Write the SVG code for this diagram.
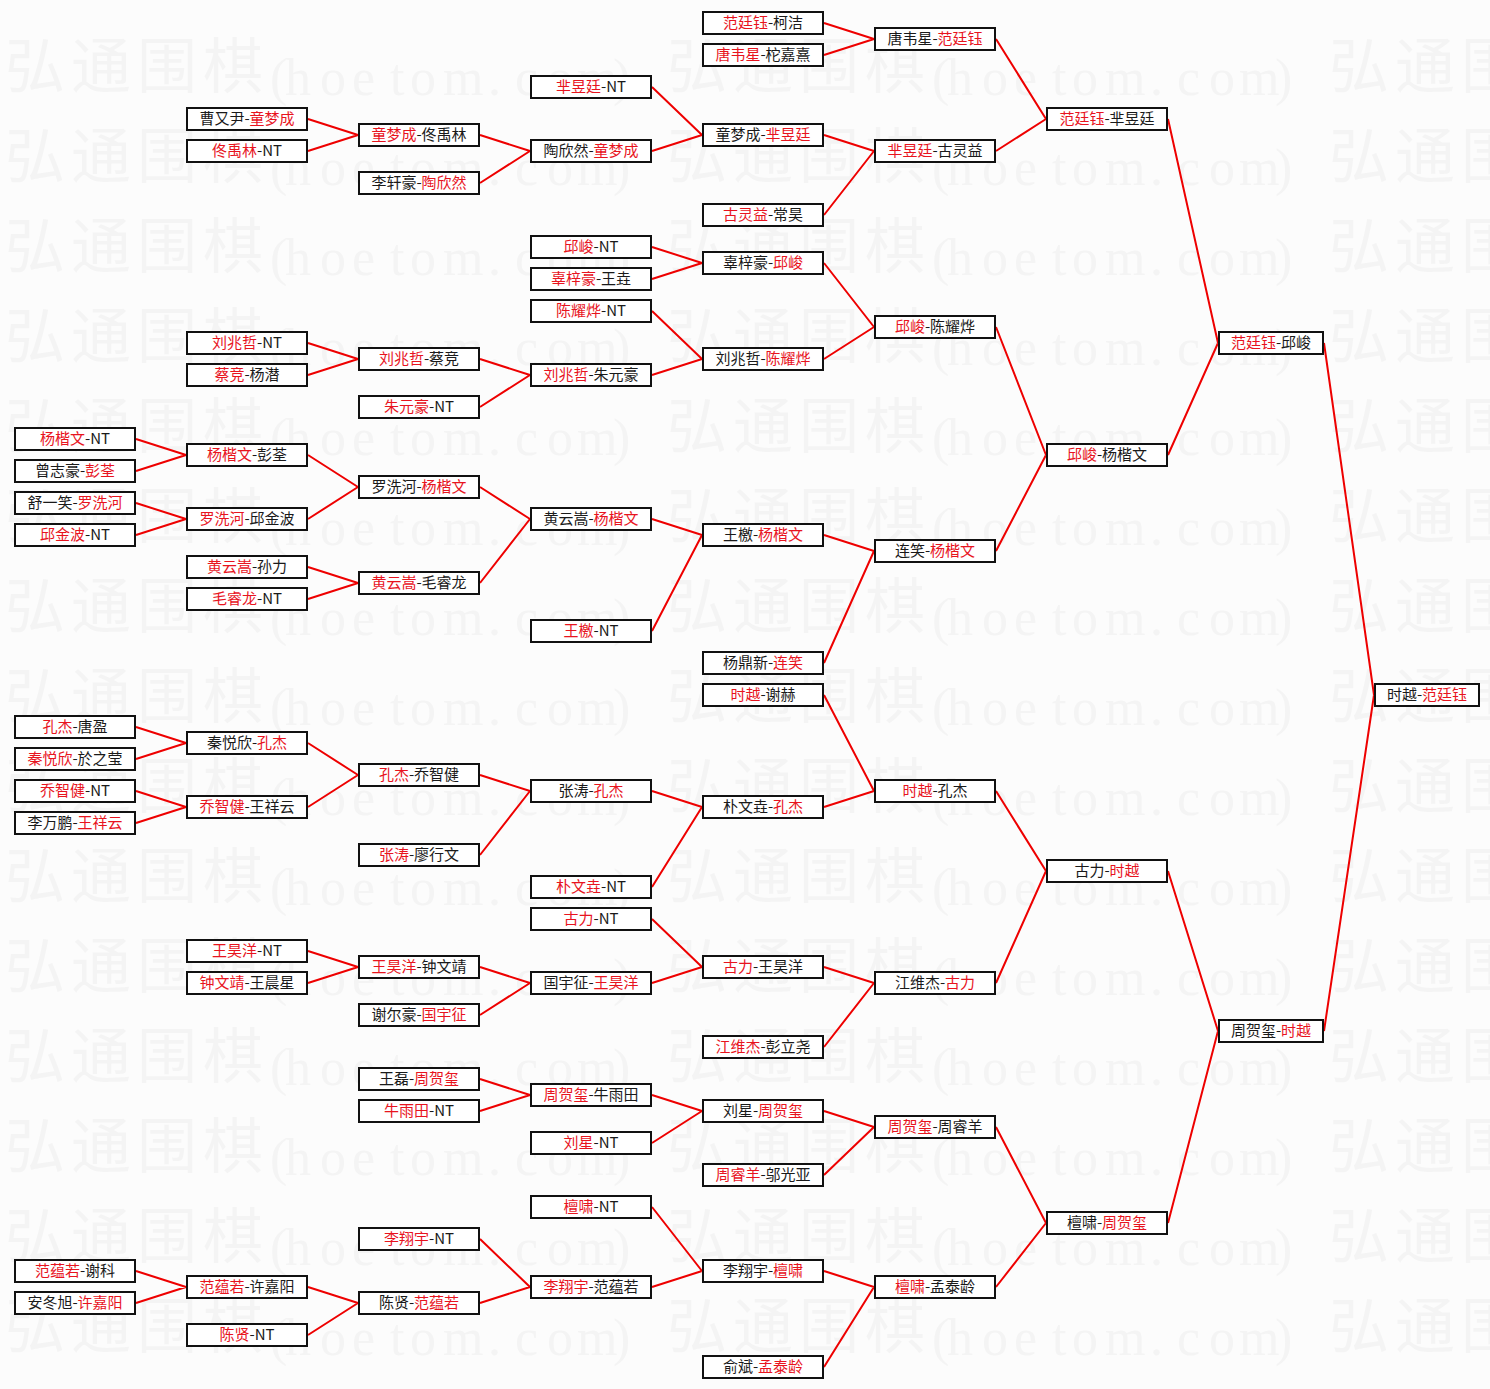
<svg xmlns="http://www.w3.org/2000/svg" xmlns:xlink="http://www.w3.org/1999/xlink" width="1490" height="1389" viewBox="0 0 1490 1389">
<style>
.bg{fill:#fcfcfc}
.wm{font-family:"Noto Sans CJK SC",sans-serif;font-size:60px;fill:#f4f4f4}
.wml{font-family:"Liberation Serif","Noto Sans CJK SC",serif;font-size:52px}
.b{fill:#ffffff;stroke:#111111;stroke-width:2}
.t{font-family:"Noto Sans CJK SC","Noto Sans CJK JP",sans-serif;font-size:15px;fill:#1a1a1a;text-anchor:middle}
.r{fill:#e8141e}
.c{fill:none;stroke:#ee0000;stroke-width:2}
</style>
<defs>
<text id="wm" class="wm"><tspan x="0 66 132 198" y="0">弘通围棋</tspan><tspan class="wml" x="265 280 315 347 385 405 438 483 510 542 572 608" y="7">(hoetom.com)</tspan></text>
</defs>
<rect class="bg" x="0" y="0" width="1490" height="1389"/>
<g id="watermark">
<use xlink:href="#wm" x="5" y="88"/><use xlink:href="#wm" x="667" y="88"/><use xlink:href="#wm" x="1329" y="88"/>
<use xlink:href="#wm" x="5" y="178"/><use xlink:href="#wm" x="667" y="178"/><use xlink:href="#wm" x="1329" y="178"/>
<use xlink:href="#wm" x="5" y="268"/><use xlink:href="#wm" x="667" y="268"/><use xlink:href="#wm" x="1329" y="268"/>
<use xlink:href="#wm" x="5" y="358"/><use xlink:href="#wm" x="667" y="358"/><use xlink:href="#wm" x="1329" y="358"/>
<use xlink:href="#wm" x="5" y="448"/><use xlink:href="#wm" x="667" y="448"/><use xlink:href="#wm" x="1329" y="448"/>
<use xlink:href="#wm" x="5" y="538"/><use xlink:href="#wm" x="667" y="538"/><use xlink:href="#wm" x="1329" y="538"/>
<use xlink:href="#wm" x="5" y="628"/><use xlink:href="#wm" x="667" y="628"/><use xlink:href="#wm" x="1329" y="628"/>
<use xlink:href="#wm" x="5" y="718"/><use xlink:href="#wm" x="667" y="718"/><use xlink:href="#wm" x="1329" y="718"/>
<use xlink:href="#wm" x="5" y="808"/><use xlink:href="#wm" x="667" y="808"/><use xlink:href="#wm" x="1329" y="808"/>
<use xlink:href="#wm" x="5" y="898"/><use xlink:href="#wm" x="667" y="898"/><use xlink:href="#wm" x="1329" y="898"/>
<use xlink:href="#wm" x="5" y="988"/><use xlink:href="#wm" x="667" y="988"/><use xlink:href="#wm" x="1329" y="988"/>
<use xlink:href="#wm" x="5" y="1078"/><use xlink:href="#wm" x="667" y="1078"/><use xlink:href="#wm" x="1329" y="1078"/>
<use xlink:href="#wm" x="5" y="1168"/><use xlink:href="#wm" x="667" y="1168"/><use xlink:href="#wm" x="1329" y="1168"/>
<use xlink:href="#wm" x="5" y="1258"/><use xlink:href="#wm" x="667" y="1258"/><use xlink:href="#wm" x="1329" y="1258"/>
<use xlink:href="#wm" x="5" y="1348"/><use xlink:href="#wm" x="667" y="1348"/><use xlink:href="#wm" x="1329" y="1348"/>
</g>
<g id="connectors">
<path class="c" d="
M136 439L186 455M136 471L186 455M136 503L186 519M136 535L186 519M136 727L186 743M136 759L186 743M136 791L186 807M136 823L186 807M136 1271L186 1287M136 1303L186 1287
M308 119L358 135M308 151L358 135M308 343L358 359M308 375L358 359M308 455L358 487M308 519L358 487M308 567L358 583M308 599L358 583M308 743L358 775M308 807L358 775M308 951L358 967M308 983L358 967M308 1287L358 1303M308 1335L358 1303
M480 135L530 151M480 183L530 151M480 359L530 375M480 407L530 375M480 487L530 519M480 583L530 519M480 775L530 791M480 855L530 791M480 967L530 983M480 1015L530 983M480 1079L530 1095M480 1111L530 1095M480 1239L530 1287M480 1303L530 1287
M652 87L702 135M652 151L702 135M652 247L702 263M652 279L702 263M652 311L702 359M652 375L702 359M652 519L702 535M652 631L702 535M652 791L702 807M652 887L702 807M652 919L702 967M652 983L702 967M652 1095L702 1111M652 1143L702 1111M652 1207L702 1271M652 1287L702 1271
M824 23L874 39M824 55L874 39M824 135L874 151M824 215L874 151M824 263L874 327M824 359L874 327M824 535L874 551M824 663L874 551M824 695L874 791M824 807L874 791M824 967L874 983M824 1047L874 983M824 1111L874 1127M824 1175L874 1127M824 1271L874 1287M824 1367L874 1287
M996 39L1046 119M996 151L1046 119M996 327L1046 455M996 551L1046 455M996 791L1046 871M996 983L1046 871M996 1127L1046 1223M996 1287L1046 1223
M1168 119L1218 343M1168 455L1218 343M1168 871L1218 1031M1168 1223L1218 1031
M1324 343L1374 695M1324 1031L1374 695"/>
</g>
<g id="nodes">
<!-- column 0 -->
<g id="c0n1"><rect class="b" x="15" y="428" width="120" height="22"/><text class="t" x="75" y="444"><tspan class="r">杨楷文</tspan>-NT</text></g>
<g id="c0n2"><rect class="b" x="15" y="460" width="120" height="22"/><text class="t" x="75" y="476">曾志豪-<tspan class="r">彭荃</tspan></text></g>
<g id="c0n3"><rect class="b" x="15" y="492" width="120" height="22"/><text class="t" x="75" y="508">舒一笑-<tspan class="r">罗洗河</tspan></text></g>
<g id="c0n4"><rect class="b" x="15" y="524" width="120" height="22"/><text class="t" x="75" y="540"><tspan class="r">邱金波</tspan>-NT</text></g>
<g id="c0n5"><rect class="b" x="15" y="716" width="120" height="22"/><text class="t" x="75" y="732"><tspan class="r">孔杰</tspan>-唐盈</text></g>
<g id="c0n6"><rect class="b" x="15" y="748" width="120" height="22"/><text class="t" x="75" y="764"><tspan class="r">秦悦欣</tspan>-於之莹</text></g>
<g id="c0n7"><rect class="b" x="15" y="780" width="120" height="22"/><text class="t" x="75" y="796"><tspan class="r">乔智健</tspan>-NT</text></g>
<g id="c0n8"><rect class="b" x="15" y="812" width="120" height="22"/><text class="t" x="75" y="828">李万鹏-<tspan class="r">王祥云</tspan></text></g>
<g id="c0n9"><rect class="b" x="15" y="1260" width="120" height="22"/><text class="t" x="75" y="1276"><tspan class="r">范蕴若</tspan>-谢科</text></g>
<g id="c0n10"><rect class="b" x="15" y="1292" width="120" height="22"/><text class="t" x="75" y="1308">安冬旭-<tspan class="r">许嘉阳</tspan></text></g>
<!-- column 1 -->
<g id="c1n1"><rect class="b" x="187" y="108" width="120" height="22"/><text class="t" x="247" y="124">曹又尹-<tspan class="r">童梦成</tspan></text></g>
<g id="c1n2"><rect class="b" x="187" y="140" width="120" height="22"/><text class="t" x="247" y="156"><tspan class="r">佟禹林</tspan>-NT</text></g>
<g id="c1n3"><rect class="b" x="187" y="332" width="120" height="22"/><text class="t" x="247" y="348"><tspan class="r">刘兆哲</tspan>-NT</text></g>
<g id="c1n4"><rect class="b" x="187" y="364" width="120" height="22"/><text class="t" x="247" y="380"><tspan class="r">蔡竞</tspan>-杨潜</text></g>
<g id="c1n5"><rect class="b" x="187" y="444" width="120" height="22"/><text class="t" x="247" y="460"><tspan class="r">杨楷文</tspan>-彭荃</text></g>
<g id="c1n6"><rect class="b" x="187" y="508" width="120" height="22"/><text class="t" x="247" y="524"><tspan class="r">罗洗河</tspan>-邱金波</text></g>
<g id="c1n7"><rect class="b" x="187" y="556" width="120" height="22"/><text class="t" x="247" y="572"><tspan class="r">黄云嵩</tspan>-孙力</text></g>
<g id="c1n8"><rect class="b" x="187" y="588" width="120" height="22"/><text class="t" x="247" y="604"><tspan class="r">毛睿龙</tspan>-NT</text></g>
<g id="c1n9"><rect class="b" x="187" y="732" width="120" height="22"/><text class="t" x="247" y="748">秦悦欣-<tspan class="r">孔杰</tspan></text></g>
<g id="c1n10"><rect class="b" x="187" y="796" width="120" height="22"/><text class="t" x="247" y="812"><tspan class="r">乔智健</tspan>-王祥云</text></g>
<g id="c1n11"><rect class="b" x="187" y="940" width="120" height="22"/><text class="t" x="247" y="956"><tspan class="r">王昊洋</tspan>-NT</text></g>
<g id="c1n12"><rect class="b" x="187" y="972" width="120" height="22"/><text class="t" x="247" y="988"><tspan class="r">钟文靖</tspan>-王晨星</text></g>
<g id="c1n13"><rect class="b" x="187" y="1276" width="120" height="22"/><text class="t" x="247" y="1292"><tspan class="r">范蕴若</tspan>-许嘉阳</text></g>
<g id="c1n14"><rect class="b" x="187" y="1324" width="120" height="22"/><text class="t" x="247" y="1340"><tspan class="r">陈贤</tspan>-NT</text></g>
<!-- column 2 -->
<g id="c2n1"><rect class="b" x="359" y="124" width="120" height="22"/><text class="t" x="419" y="140"><tspan class="r">童梦成</tspan>-佟禹林</text></g>
<g id="c2n2"><rect class="b" x="359" y="172" width="120" height="22"/><text class="t" x="419" y="188">李轩豪-<tspan class="r">陶欣然</tspan></text></g>
<g id="c2n3"><rect class="b" x="359" y="348" width="120" height="22"/><text class="t" x="419" y="364"><tspan class="r">刘兆哲</tspan>-蔡竞</text></g>
<g id="c2n4"><rect class="b" x="359" y="396" width="120" height="22"/><text class="t" x="419" y="412"><tspan class="r">朱元豪</tspan>-NT</text></g>
<g id="c2n5"><rect class="b" x="359" y="476" width="120" height="22"/><text class="t" x="419" y="492">罗洗河-<tspan class="r">杨楷文</tspan></text></g>
<g id="c2n6"><rect class="b" x="359" y="572" width="120" height="22"/><text class="t" x="419" y="588"><tspan class="r">黄云嵩</tspan>-毛睿龙</text></g>
<g id="c2n7"><rect class="b" x="359" y="764" width="120" height="22"/><text class="t" x="419" y="780"><tspan class="r">孔杰</tspan>-乔智健</text></g>
<g id="c2n8"><rect class="b" x="359" y="844" width="120" height="22"/><text class="t" x="419" y="860"><tspan class="r">张涛</tspan>-廖行文</text></g>
<g id="c2n9"><rect class="b" x="359" y="956" width="120" height="22"/><text class="t" x="419" y="972"><tspan class="r">王昊洋</tspan>-钟文靖</text></g>
<g id="c2n10"><rect class="b" x="359" y="1004" width="120" height="22"/><text class="t" x="419" y="1020">谢尔豪-<tspan class="r">国宇征</tspan></text></g>
<g id="c2n11"><rect class="b" x="359" y="1068" width="120" height="22"/><text class="t" x="419" y="1084">王磊-<tspan class="r">周贺玺</tspan></text></g>
<g id="c2n12"><rect class="b" x="359" y="1100" width="120" height="22"/><text class="t" x="419" y="1116"><tspan class="r">牛雨田</tspan>-NT</text></g>
<g id="c2n13"><rect class="b" x="359" y="1228" width="120" height="22"/><text class="t" x="419" y="1244"><tspan class="r">李翔宇</tspan>-NT</text></g>
<g id="c2n14"><rect class="b" x="359" y="1292" width="120" height="22"/><text class="t" x="419" y="1308">陈贤-<tspan class="r">范蕴若</tspan></text></g>
<!-- column 3 -->
<g id="c3n1"><rect class="b" x="531" y="76" width="120" height="22"/><text class="t" x="591" y="92"><tspan class="r">芈昱廷</tspan>-NT</text></g>
<g id="c3n2"><rect class="b" x="531" y="140" width="120" height="22"/><text class="t" x="591" y="156">陶欣然-<tspan class="r">童梦成</tspan></text></g>
<g id="c3n3"><rect class="b" x="531" y="236" width="120" height="22"/><text class="t" x="591" y="252"><tspan class="r">邱峻</tspan>-NT</text></g>
<g id="c3n4"><rect class="b" x="531" y="268" width="120" height="22"/><text class="t" x="591" y="284"><tspan class="r">辜梓豪</tspan>-王垚</text></g>
<g id="c3n5"><rect class="b" x="531" y="300" width="120" height="22"/><text class="t" x="591" y="316"><tspan class="r">陈耀烨</tspan>-NT</text></g>
<g id="c3n6"><rect class="b" x="531" y="364" width="120" height="22"/><text class="t" x="591" y="380"><tspan class="r">刘兆哲</tspan>-朱元豪</text></g>
<g id="c3n7"><rect class="b" x="531" y="508" width="120" height="22"/><text class="t" x="591" y="524">黄云嵩-<tspan class="r">杨楷文</tspan></text></g>
<g id="c3n8"><rect class="b" x="531" y="620" width="120" height="22"/><text class="t" x="591" y="636"><tspan class="r">王檄</tspan>-NT</text></g>
<g id="c3n9"><rect class="b" x="531" y="780" width="120" height="22"/><text class="t" x="591" y="796">张涛-<tspan class="r">孔杰</tspan></text></g>
<g id="c3n10"><rect class="b" x="531" y="876" width="120" height="22"/><text class="t" x="591" y="892"><tspan class="r">朴文垚</tspan>-NT</text></g>
<g id="c3n11"><rect class="b" x="531" y="908" width="120" height="22"/><text class="t" x="591" y="924"><tspan class="r">古力</tspan>-NT</text></g>
<g id="c3n12"><rect class="b" x="531" y="972" width="120" height="22"/><text class="t" x="591" y="988">国宇征-<tspan class="r">王昊洋</tspan></text></g>
<g id="c3n13"><rect class="b" x="531" y="1084" width="120" height="22"/><text class="t" x="591" y="1100"><tspan class="r">周贺玺</tspan>-牛雨田</text></g>
<g id="c3n14"><rect class="b" x="531" y="1132" width="120" height="22"/><text class="t" x="591" y="1148"><tspan class="r">刘星</tspan>-NT</text></g>
<g id="c3n15"><rect class="b" x="531" y="1196" width="120" height="22"/><text class="t" x="591" y="1212"><tspan class="r">檀啸</tspan>-NT</text></g>
<g id="c3n16"><rect class="b" x="531" y="1276" width="120" height="22"/><text class="t" x="591" y="1292"><tspan class="r">李翔宇</tspan>-范蕴若</text></g>
<!-- column 4 -->
<g id="c4n1"><rect class="b" x="703" y="12" width="120" height="22"/><text class="t" x="763" y="28"><tspan class="r">范廷钰</tspan>-柯洁</text></g>
<g id="c4n2"><rect class="b" x="703" y="44" width="120" height="22"/><text class="t" x="763" y="60"><tspan class="r">唐韦星</tspan>-柁嘉熹</text></g>
<g id="c4n3"><rect class="b" x="703" y="124" width="120" height="22"/><text class="t" x="763" y="140">童梦成-<tspan class="r">芈昱廷</tspan></text></g>
<g id="c4n4"><rect class="b" x="703" y="204" width="120" height="22"/><text class="t" x="763" y="220"><tspan class="r">古灵益</tspan>-常昊</text></g>
<g id="c4n5"><rect class="b" x="703" y="252" width="120" height="22"/><text class="t" x="763" y="268">辜梓豪-<tspan class="r">邱峻</tspan></text></g>
<g id="c4n6"><rect class="b" x="703" y="348" width="120" height="22"/><text class="t" x="763" y="364">刘兆哲-<tspan class="r">陈耀烨</tspan></text></g>
<g id="c4n7"><rect class="b" x="703" y="524" width="120" height="22"/><text class="t" x="763" y="540">王檄-<tspan class="r">杨楷文</tspan></text></g>
<g id="c4n8"><rect class="b" x="703" y="652" width="120" height="22"/><text class="t" x="763" y="668">杨鼎新-<tspan class="r">连笑</tspan></text></g>
<g id="c4n9"><rect class="b" x="703" y="684" width="120" height="22"/><text class="t" x="763" y="700"><tspan class="r">时越</tspan>-谢赫</text></g>
<g id="c4n10"><rect class="b" x="703" y="796" width="120" height="22"/><text class="t" x="763" y="812">朴文垚-<tspan class="r">孔杰</tspan></text></g>
<g id="c4n11"><rect class="b" x="703" y="956" width="120" height="22"/><text class="t" x="763" y="972"><tspan class="r">古力</tspan>-王昊洋</text></g>
<g id="c4n12"><rect class="b" x="703" y="1036" width="120" height="22"/><text class="t" x="763" y="1052"><tspan class="r">江维杰</tspan>-彭立尧</text></g>
<g id="c4n13"><rect class="b" x="703" y="1100" width="120" height="22"/><text class="t" x="763" y="1116">刘星-<tspan class="r">周贺玺</tspan></text></g>
<g id="c4n14"><rect class="b" x="703" y="1164" width="120" height="22"/><text class="t" x="763" y="1180"><tspan class="r">周睿羊</tspan>-邬光亚</text></g>
<g id="c4n15"><rect class="b" x="703" y="1260" width="120" height="22"/><text class="t" x="763" y="1276">李翔宇-<tspan class="r">檀啸</tspan></text></g>
<g id="c4n16"><rect class="b" x="703" y="1356" width="120" height="22"/><text class="t" x="763" y="1372">俞斌-<tspan class="r">孟泰龄</tspan></text></g>
<!-- column 5 -->
<g id="c5n1"><rect class="b" x="875" y="28" width="120" height="22"/><text class="t" x="935" y="44">唐韦星-<tspan class="r">范廷钰</tspan></text></g>
<g id="c5n2"><rect class="b" x="875" y="140" width="120" height="22"/><text class="t" x="935" y="156"><tspan class="r">芈昱廷</tspan>-古灵益</text></g>
<g id="c5n3"><rect class="b" x="875" y="316" width="120" height="22"/><text class="t" x="935" y="332"><tspan class="r">邱峻</tspan>-陈耀烨</text></g>
<g id="c5n4"><rect class="b" x="875" y="540" width="120" height="22"/><text class="t" x="935" y="556">连笑-<tspan class="r">杨楷文</tspan></text></g>
<g id="c5n5"><rect class="b" x="875" y="780" width="120" height="22"/><text class="t" x="935" y="796"><tspan class="r">时越</tspan>-孔杰</text></g>
<g id="c5n6"><rect class="b" x="875" y="972" width="120" height="22"/><text class="t" x="935" y="988">江维杰-<tspan class="r">古力</tspan></text></g>
<g id="c5n7"><rect class="b" x="875" y="1116" width="120" height="22"/><text class="t" x="935" y="1132"><tspan class="r">周贺玺</tspan>-周睿羊</text></g>
<g id="c5n8"><rect class="b" x="875" y="1276" width="120" height="22"/><text class="t" x="935" y="1292"><tspan class="r">檀啸</tspan>-孟泰龄</text></g>
<!-- column 6 -->
<g id="c6n1"><rect class="b" x="1047" y="108" width="120" height="22"/><text class="t" x="1107" y="124"><tspan class="r">范廷钰</tspan>-芈昱廷</text></g>
<g id="c6n2"><rect class="b" x="1047" y="444" width="120" height="22"/><text class="t" x="1107" y="460"><tspan class="r">邱峻</tspan>-杨楷文</text></g>
<g id="c6n3"><rect class="b" x="1047" y="860" width="120" height="22"/><text class="t" x="1107" y="876">古力-<tspan class="r">时越</tspan></text></g>
<g id="c6n4"><rect class="b" x="1047" y="1212" width="120" height="22"/><text class="t" x="1107" y="1228">檀啸-<tspan class="r">周贺玺</tspan></text></g>
<!-- column 7 -->
<g id="c7n1"><rect class="b" x="1219" y="332" width="104" height="22"/><text class="t" x="1271" y="348"><tspan class="r">范廷钰</tspan>-邱峻</text></g>
<g id="c7n2"><rect class="b" x="1219" y="1020" width="104" height="22"/><text class="t" x="1271" y="1036">周贺玺-<tspan class="r">时越</tspan></text></g>
<!-- final -->
<g id="final"><rect class="b" x="1375" y="684" width="104" height="22"/><text class="t" x="1427" y="700">时越-<tspan class="r">范廷钰</tspan></text></g>
</g>
</svg>
